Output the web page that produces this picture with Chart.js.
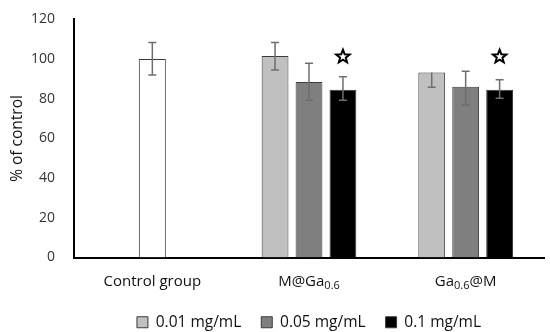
<!DOCTYPE html>
<html>
<head>
<meta charset="utf-8">
<script src="https://cdn.jsdelivr.net/npm/chart.js@4/dist/chart.umd.min.js"></script>
<style>
	html, body { margin: 0; padding: 0; background: #fff; }
	#wrap { width: 550px; height: 332px; position: relative; }
</style>
</head>
<body>
<div id="wrap"><canvas id="chart"></canvas></div>
<script>
const categories = ["Control group", "M@Ga0.6", "Ga0.6@M"]
const seriesNames = ["Control", "0.01 mg/mL", "0.05 mg/mL", "0.1 mg/mL"]

const controlValues = [100, null, null]
const lowValues = [null, 101.5, 93.2]
const midValues = [null, 88.4, 86.1]
const highValues = [null, 84.6, 84.6]

// error bars: upper and lower half-lengths
const controlErrUp = [8.3, null, null]
const controlErrDown = [8, null, null]
const lowErrUp = [null, 6.8, 0]
const lowErrDown = [null, 7, 7.4]
const midErrUp = [null, 9.5, 7.8]
const midErrDown = [null, 9.2, 9.2]
const highErrUp = [null, 6.5, 5]
const highErrDown = [null, 5.4, 4.3]

// significance stars, on the 0.1 mg/mL series
const starValues = [null, 101.7, 101.7]

const font = "'Open Sans', sans-serif"
const textColor = "#333"

function drawStar(ctx, cx, cy, outer, inner) {
	ctx.beginPath()
	for (let k = 0; k < 10; k++) {
		const r = k % 2 === 0 ? outer : inner
		const a = -Math.PI / 2 + k * Math.PI / 5
		const px = cx + r * Math.cos(a)
		const py = cy + r * Math.sin(a)
		if (k === 0) ctx.moveTo(px, py)
		else ctx.lineTo(px, py)
	}
	ctx.closePath()
	ctx.fillStyle = "#fff"
	ctx.fill()
	ctx.strokeStyle = "#000"
	ctx.lineWidth = 2
	ctx.lineJoin = "miter"
	ctx.stroke()
}

const errorBars = {
	id: "errorBars",
	afterDatasetsDraw(chart) {
		const ctx = chart.ctx
		const y = chart.scales.y
		ctx.save()
		ctx.strokeStyle = "#6e6e6e"
		ctx.lineWidth = 1.5
		chart.data.datasets.forEach((ds, i) => {
			const meta = chart.getDatasetMeta(i)
			meta.data.forEach((bar, j) => {
				const v = ds.data[j]
				if (v == null) return
				const top = y.getPixelForValue(v + ds.errUp[j])
				const bottom = y.getPixelForValue(v - ds.errDown[j])
				ctx.beginPath()
				ctx.moveTo(bar.x, top)
				ctx.lineTo(bar.x, bottom)
				if (ds.errUp[j] > 0) {
					ctx.moveTo(bar.x - 4, top)
					ctx.lineTo(bar.x + 4, top)
				}
				ctx.moveTo(bar.x - 4, bottom)
				ctx.lineTo(bar.x + 4, bottom)
				ctx.stroke()
			})
		})
		const meta = chart.getDatasetMeta(3)
		starValues.forEach((v, j) => {
			if (v == null) return
			drawStar(ctx, meta.data[j].x, y.getPixelForValue(v) + 1, 7, 3)
		})
		ctx.restore()
	}
}

const xLabels = {
	id: "xLabels",
	afterDraw(chart) {
		const ctx = chart.ctx
		const x = chart.scales.x
		const baseY = chart.chartArea.bottom + 28
		ctx.save()
		ctx.fillStyle = "#111"
		ctx.textBaseline = "alphabetic"
		ctx.textAlign = "left"
		categories.forEach((label, i) => {
			const parts = label.split(/(0\.6)/).filter(p => p !== "")
			const fonts = parts.map(p => p === "0.6" ? "11px " + font : "15px " + font)
			let width = 0
			parts.forEach((p, k) => {
				ctx.font = fonts[k]
				width += ctx.measureText(p).width
			})
			let cx = x.getPixelForValue(i) - width / 2
			parts.forEach((p, k) => {
				ctx.font = fonts[k]
				ctx.fillText(p, cx, baseY + (p === "0.6" ? 3 : 0))
				cx += ctx.measureText(p).width
			})
		})
		ctx.restore()
	}
}

function makeSet(name, data, color, up, down) {
	return {
		label: name,
		data: data,
		backgroundColor: color,
		borderColor: "#3a3a3a",
		borderWidth: 1,
		errUp: up,
		errDown: down,
	}
}

new Chart(document.getElementById("chart"), {
	type: "bar",
	data: {
		labels: categories,
		datasets: [
			makeSet(seriesNames[0], controlValues, "#ffffff", controlErrUp, controlErrDown),
			makeSet(seriesNames[1], lowValues, "#c0c0c0", lowErrUp, lowErrDown),
			makeSet(seriesNames[2], midValues, "#7f7f7f", midErrUp, midErrDown),
			makeSet(seriesNames[3], highValues, "#000000", highErrUp, highErrDown),
		],
	},
	options: {
		responsive: true,
		maintainAspectRatio: false,
		animation: false,
		skipNull: true,
		categoryPercentage: 0.65,
		barPercentage: 0.79,
		maxBarThickness: 27,
		layout: { padding: { top: 0, right: 6, left: 4, bottom: -8 } },
		plugins: {
			legend: {
				position: "bottom",
				fullSize: false,
				labels: {
					filter: item => item.datasetIndex > 0,
					boxWidth: 11,
					boxHeight: 11,
					padding: 20,
					color: "#111",
					font: { family: font, size: 15.5 },
				},
			},
			tooltip: { enabled: false },
		},
		scales: {
			x: {
				grid: { display: false },
				border: { display: true, color: "#000", width: 2 },
				ticks: { display: false },
				afterFit: scale => { scale.height = 37 },
			},
			y: {
				min: 0,
				max: 120,
				grid: { display: false },
				border: { display: true, color: "#000", width: 2 },
				ticks: {
					stepSize: 20,
					color: textColor,
					padding: 11,
					font: { family: font, size: 14 },
				},
				title: {
					display: true,
					text: "% of control",
					color: "#111",
					font: { family: font, size: 15.5 },
				},
				afterFit: scale => { scale.width = 70 },
			},
		},
	},
	plugins: [errorBars, xLabels],
})
</script>
</body>
</html>
